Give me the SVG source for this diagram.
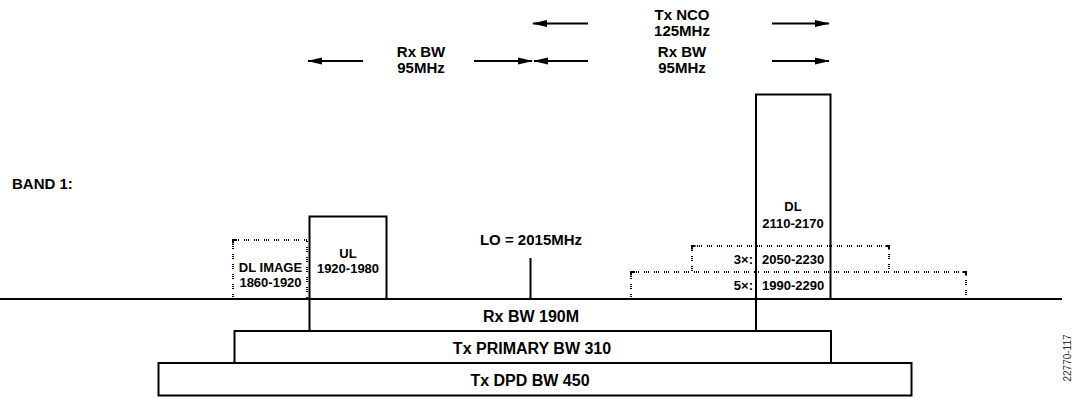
<svg xmlns="http://www.w3.org/2000/svg" width="1083" height="398" viewBox="0 0 1083 398">
<style>
text{font-family:"Liberation Sans",Arial,sans-serif;font-weight:bold;fill:#000;}
.t15{font-size:15px;text-anchor:middle;}
.t13{font-size:13px;text-anchor:middle;}
.t16{font-size:16px;text-anchor:middle;}
.box{fill:#fff;stroke:#000;stroke-width:2;}
.solid{fill:none;stroke:#000;stroke-width:2;}
.dot{fill:none;stroke:#000;stroke-width:2;stroke-dasharray:1 1 1 1 1 5;}
.corner{fill:none;stroke:#000;stroke-width:2;}
.arr{stroke:#000;stroke-width:2;marker-end:url(#ah);}
.id{font-family:"Liberation Sans",Arial,sans-serif;font-weight:normal;font-size:10px;fill:#333;text-anchor:middle;}
</style>
<defs>
<marker id="ah" markerUnits="userSpaceOnUse" markerWidth="15" markerHeight="8" refX="14" refY="4" orient="auto">
<path d="M0,0.5 L15,4 L0,7.5 z" fill="#000"/>
</marker>
</defs>
<rect width="1083" height="398" fill="#fff"/>

<g id="bottom-bars">
<rect id="tx-dpd" class="box" x="158.5" y="363" width="753" height="32.5"/>
<rect id="tx-primary" class="box" x="234.5" y="331" width="596.5" height="32"/>
<rect id="rx-bw" class="box" x="309.5" y="299" width="446.5" height="32"/>
<text class="t16" x="531" y="322">Rx BW 190M</text>
<text class="t16" x="532" y="354">Tx PRIMARY BW 310</text>
<text class="t16" x="530" y="386">Tx DPD BW 450</text>
</g>

<g id="dl-image">
<path class="dot" d="M233,299 V240 H307 V299"/>
<path class="corner" d="M233,243.5 V240 H236.5"/>
<text class="t13" x="270.5" y="272">DL IMAGE</text>
<text class="t13" x="270.5" y="287">1860-1920</text>
</g>

<g id="ul">
<rect class="box" x="309.5" y="216.5" width="77" height="82.5"/>
<text class="t13" x="348" y="258">UL</text>
<text class="t13" x="348" y="273">1920-1980</text>
</g>

<g id="lo">
<line class="solid" x1="530.5" y1="258" x2="530.5" y2="299"/>
<text class="t15" x="531" y="245">LO = 2015MHz</text>
</g>

<g id="band-label">
<text x="12" y="189" style="font-size:15px">BAND 1:</text>
</g>

<g id="harm5">
<path class="dot" d="M631,299 V272 H966 V299"/>
<path class="corner" d="M631,275.5 V272 H634.5"/>
<path class="corner" d="M962.5,272 H966 V275.5"/>
<text x="753" y="290" style="font-size:13px;text-anchor:end">5×:</text>
<text x="762" y="290" style="font-size:13px">1990-2290</text>
</g>

<g id="harm3">
<path class="dot" d="M692,271 V246 H889 V271"/>
<path class="corner" d="M692,249.5 V246 H695.5"/>
<path class="corner" d="M885.5,246 H889 V249.5"/>
<text x="753" y="264" style="font-size:13px;text-anchor:end">3×:</text>
<text x="762" y="264" style="font-size:13px">2050-2230</text>
</g>

<g id="dl">
<rect class="box" x="756" y="94.5" width="74.5" height="204.5" fill-opacity="0"/>
<text class="t13" x="793" y="211">DL</text>
<text class="t13" x="793" y="228">2110-2170</text>
</g>

<g id="axis">
<line class="solid" x1="0" y1="299" x2="1062" y2="299"/>
</g>

<g id="connectors">
<line class="arr" x1="588" y1="23.5" x2="533" y2="23.5"/>
<line class="arr" x1="772" y1="23.5" x2="829" y2="23.5"/>
<line class="arr" x1="363" y1="61" x2="308" y2="61"/>
<line class="arr" x1="474" y1="61" x2="532" y2="61"/>
<line class="arr" x1="588" y1="61" x2="534" y2="61"/>
<line class="arr" x1="772" y1="61" x2="829" y2="61"/>
</g>

<g id="top-labels">
<text class="t15" x="682" y="20">Tx NCO</text>
<text class="t15" x="682" y="36">125MHz</text>
<text class="t15" x="421" y="57">Rx BW</text>
<text class="t15" x="421" y="73">95MHz</text>
<text class="t15" x="682" y="57">Rx BW</text>
<text class="t15" x="682" y="73">95MHz</text>
</g>

<text class="id" transform="translate(1071,358) rotate(-90)">22770-117</text>
</svg>
